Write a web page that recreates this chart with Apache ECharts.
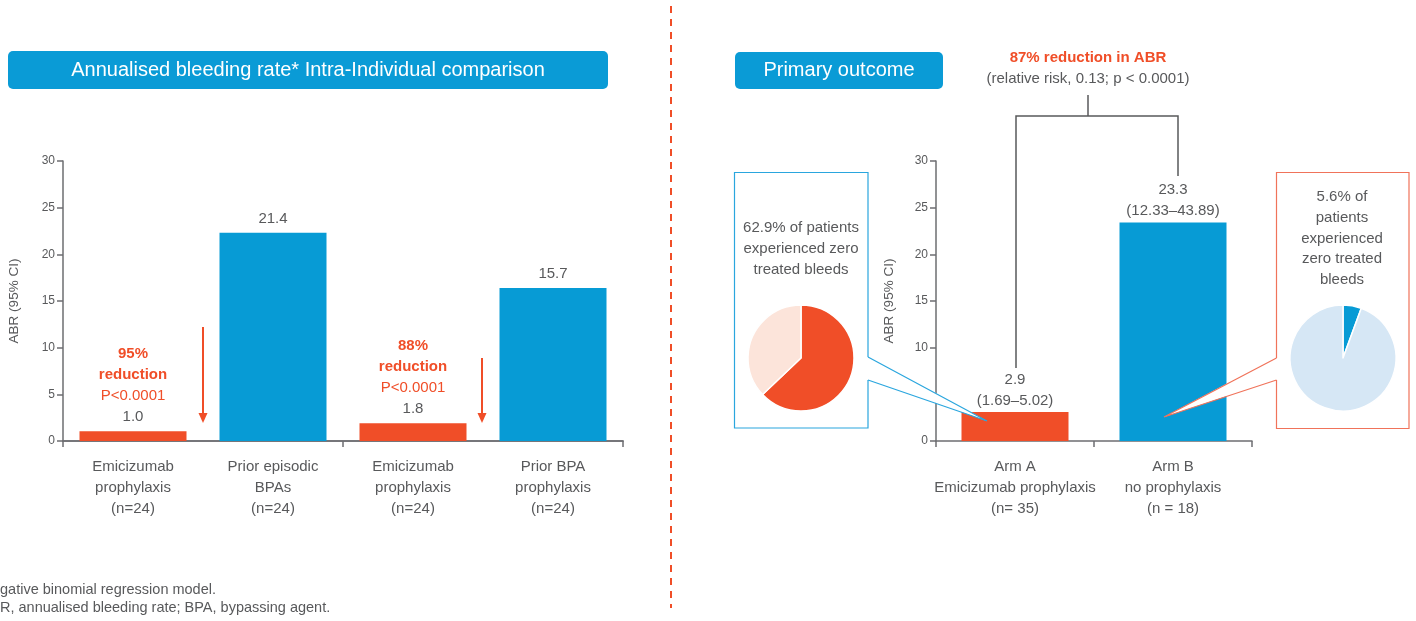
<!DOCTYPE html>
<html>
<head>
<meta charset="utf-8">
<script src="https://cdn.jsdelivr.net/npm/echarts@6/dist/echarts.min.js"></script>
<style>
html,body{margin:0;padding:0;background:#fff;}
#chart{width:1416px;height:621px;}
</style>
</head>
<body>
<div id="chart"></div>
<script>
// ---------- data ----------
const leftCategories = [
  'Emicizumab\nprophylaxis\n(n=24)',
  'Prior episodic\nBPAs\n(n=24)',
  'Emicizumab\nprophylaxis\n(n=24)',
  'Prior BPA\nprophylaxis\n(n=24)'
];
// comparison groups (tick marks separate the two pairs)
const leftGroups = ['Comparison 1', 'Comparison 2'];
// bar heights as drawn in the picture
const leftValues = [1.05, 22.3, 1.9, 16.4];
const leftValueLabels = ['1.0', '21.4', '1.8', '15.7'];
const leftReductions = ['95%', '', '88%', ''];
const leftPValues = ['P<0.0001', '', 'P<0.0001', ''];

const rightCategories = [
  'Arm A\nEmicizumab prophylaxis\n(n= 35)',
  'Arm B\nno prophylaxis\n(n = 18)'
];
const rightValues = [3.1, 23.4];
const rightValueLabels = ['2.9', '23.3'];
const rightCI = ['(1.69–5.02)', '(12.33–43.89)'];

const yMin = 0, yMax = 30, yInterval = 5;

const pieANames = ['Zero treated bleeds', 'Other'];
const pieAValues = [62.9, 37.1];
const pieBNames = ['Zero treated bleeds', 'Other'];
const pieBValues = [5.6, 94.4];

// ---------- styles ----------
const ORANGE = '#F04E28';
const BLUE = '#079BD5';
const GREY = '#58595B';
const AXIS = '#6D6E71';
const FONT = "'Liberation Sans', Arial, sans-serif";
const leftColors = [ORANGE, BLUE, ORANGE, BLUE];
const rightColors = [ORANGE, BLUE];

const chart = echarts.init(document.getElementById('chart'), null, {renderer: 'canvas'});

function yAxisCfg(gridIndex, nameGap) {
  return {
    type: 'value', gridIndex, min: yMin, max: yMax, interval: yInterval,
    name: 'ABR (95% CI)', nameLocation: 'middle', nameGap,
    nameTextStyle: {color: GREY, fontSize: 13.5, fontFamily: FONT},
    axisLine: {show: true, lineStyle: {color: AXIS, width: 1.5}},
    axisTick: {show: true, length: 6, lineStyle: {color: AXIS, width: 1.5}},
    axisLabel: {color: GREY, fontSize: 12, fontFamily: FONT, margin: 8},
    splitLine: {show: false}
  };
}
function xAxisCfg(gridIndex, data, showTicks) {
  return {
    type: 'category', gridIndex, data, boundaryGap: true, position: 'bottom',
    axisLine: {show: true, onZero: false, lineStyle: {color: AXIS, width: 1.5}},
    axisTick: {show: showTicks, length: 6, interval: 0, lineStyle: {color: AXIS, width: 1.5}},
    axisLabel: {color: GREY, fontSize: 15, lineHeight: 21, fontFamily: FONT, margin: 15, interval: 0}
  };
}

const option = {
  animation: false,
  backgroundColor: '#fff',
  grid: [
    {left: 63, top: 161, width: 560, height: 280},
    {left: 936, top: 161, width: 316, height: 280}
  ],
  xAxis: [
    xAxisCfg(0, leftCategories, false),
    xAxisCfg(1, rightCategories, true),
    Object.assign(xAxisCfg(0, leftGroups, true), {axisLabel: {show: false}})
  ],
  yAxis: [yAxisCfg(0, 42), yAxisCfg(1, 40)],
  series: [
    {
      type: 'bar', xAxisIndex: 0, yAxisIndex: 0, barWidth: 107,
      data: leftValues.map((v, i) => ({value: v, itemStyle: {color: leftColors[i]}})),
      label: {
        show: true, position: 'top', distance: 4,
        formatter: p => {
          const i = p.dataIndex;
          let s = '';
          if (leftReductions[i]) s += '{r|' + leftReductions[i] + '}\n{r|reduction}\n{p|' + leftPValues[i] + '}\n';
          return s + '{v|' + leftValueLabels[i] + '}';
        },
        rich: {
          r: {color: ORANGE, fontWeight: 'bold', fontSize: 15, lineHeight: 21, fontFamily: FONT},
          p: {color: ORANGE, fontSize: 15, lineHeight: 21, fontFamily: FONT},
          v: {color: GREY, fontSize: 15, lineHeight: 21, fontFamily: FONT}
        }
      }
    },
    {
      type: 'bar', xAxisIndex: 1, yAxisIndex: 1, barWidth: 107,
      data: rightValues.map((v, i) => ({value: v, itemStyle: {color: rightColors[i]}})),
      label: {
        show: true, position: 'top', distance: 1,
        formatter: p => '{v|' + rightValueLabels[p.dataIndex] + '}\n{v|' + rightCI[p.dataIndex] + '}',
        rich: {v: {color: GREY, fontSize: 15, lineHeight: 21, fontFamily: FONT}}
      }
    },
    {
      type: 'pie', center: [801, 358], radius: 53, startAngle: 90, clockwise: true,
      label: {show: false}, labelLine: {show: false}, silent: true, z: 5,
      itemStyle: {borderColor: '#fff', borderWidth: 1.5},
      data: pieAValues.map((v, i) => ({name: pieANames[i], value: v, itemStyle: {color: i === 0 ? ORANGE : '#FCE4DA'}}))
    },
    {
      type: 'pie', center: [1343, 358], radius: 53, startAngle: 90, clockwise: true,
      label: {show: false}, labelLine: {show: false}, silent: true, z: 5,
      itemStyle: {borderColor: '#fff', borderWidth: 1.5},
      data: pieBValues.map((v, i) => ({name: pieBNames[i], value: v, itemStyle: {color: i === 0 ? BLUE : '#D6E7F5'}}))
    }
  ],
  graphic: [
    // title boxes
    {type: 'rect', z: 1, shape: {x: 8, y: 51, width: 600, height: 38, r: 5}, style: {fill: '#0A9BD6'}},
    {type: 'text', z: 2, x: 308, y: 70, style: {text: 'Annualised bleeding rate* Intra-Individual comparison', fill: '#fff', font: '20px ' + FONT, align: 'center', verticalAlign: 'middle'}},
    {type: 'rect', z: 1, shape: {x: 735, y: 52, width: 208, height: 37, r: 5}, style: {fill: '#0A9BD6'}},
    {type: 'text', z: 2, x: 839, y: 70, style: {text: 'Primary outcome', fill: '#fff', font: '20px ' + FONT, align: 'center', verticalAlign: 'middle'}},
    // divider
    {type: 'line', z: 1, shape: {x1: 671, y1: 6, x2: 671, y2: 608}, style: {stroke: ORANGE, lineWidth: 2, lineDash: [7, 6]}},
    // reduction arrows
    {type: 'line', z: 3, shape: {x1: 203, y1: 327, x2: 203, y2: 414}, style: {stroke: ORANGE, lineWidth: 2}},
    {type: 'polygon', z: 3, shape: {points: [[198.5, 413], [207.5, 413], [203, 423]]}, style: {fill: ORANGE}},
    {type: 'line', z: 3, shape: {x1: 482, y1: 358, x2: 482, y2: 414}, style: {stroke: ORANGE, lineWidth: 2}},
    {type: 'polygon', z: 3, shape: {points: [[477.5, 413], [486.5, 413], [482, 423]]}, style: {fill: ORANGE}},
    // footnotes
    {type: 'text', z: 2, x: 0, y: 590, style: {text: 'gative binomial regression model.', fill: GREY, font: '14.5px ' + FONT, align: 'left', verticalAlign: 'middle'}},
    {type: 'text', z: 2, x: 0, y: 608, style: {text: 'R, annualised bleeding rate; BPA, bypassing agent.', fill: GREY, font: '14.5px ' + FONT, align: 'left', verticalAlign: 'middle'}},
    // comparison header and bracket
    {type: 'text', z: 2, x: 1088, y: 58, style: {text: '87% reduction in ABR', fill: ORANGE, font: 'bold 15px ' + FONT, align: 'center', verticalAlign: 'middle'}},
    {type: 'text', z: 2, x: 1088, y: 79, style: {text: '(relative risk, 0.13; p < 0.0001)', fill: GREY, font: '15px ' + FONT, align: 'center', verticalAlign: 'middle'}},
    {type: 'polyline', z: 3, shape: {points: [[1016, 368], [1016, 116], [1178, 116], [1178, 176]]}, style: {stroke: GREY, lineWidth: 1.5, fill: null}},
    {type: 'line', z: 3, shape: {x1: 1088, y1: 95, x2: 1088, y2: 116}, style: {stroke: GREY, lineWidth: 1.5}},
    // left callout box
    {type: 'rect', z: 0, shape: {x: 734.5, y: 172.5, width: 133.5, height: 255.5}, style: {fill: '#fff', stroke: '#2AA6DE', lineWidth: 1.2}},
    {type: 'text', z: 2, x: 801, y: 217.5, style: {text: '62.9% of patients\nexperienced zero\ntreated bleeds', fill: GREY, font: '15px ' + FONT, lineHeight: 21, align: 'center', verticalAlign: 'top'}},
    {type: 'polygon', z: 20, shape: {points: [[870, 357], [987, 421], [870, 380], [866, 380], [866, 357]]}, style: {fill: '#fff'}},
    {type: 'polyline', z: 21, shape: {points: [[868, 357], [987, 421], [868, 380]]}, style: {stroke: '#2AA6DE', lineWidth: 1.2, fill: null}},
    // right callout box
    {type: 'rect', z: 0, shape: {x: 1276.5, y: 172.5, width: 132.5, height: 256}, style: {fill: '#fff', stroke: '#F0735A', lineWidth: 1.2}},
    {type: 'text', z: 2, x: 1342, y: 186.5, style: {text: '5.6% of\npatients\nexperienced\nzero treated\nbleeds', fill: GREY, font: '15px ' + FONT, lineHeight: 20.8, align: 'center', verticalAlign: 'top'}},
    {type: 'polygon', z: 20, shape: {points: [[1275, 358], [1164, 417], [1275, 380], [1279, 380], [1279, 358]]}, style: {fill: '#fff'}},
    {type: 'polyline', z: 21, shape: {points: [[1276.5, 358], [1164, 417], [1276.5, 380]]}, style: {stroke: '#F0735A', lineWidth: 1.2, fill: null}}
  ]
};
chart.setOption(option);
</script>
</body>
</html>
